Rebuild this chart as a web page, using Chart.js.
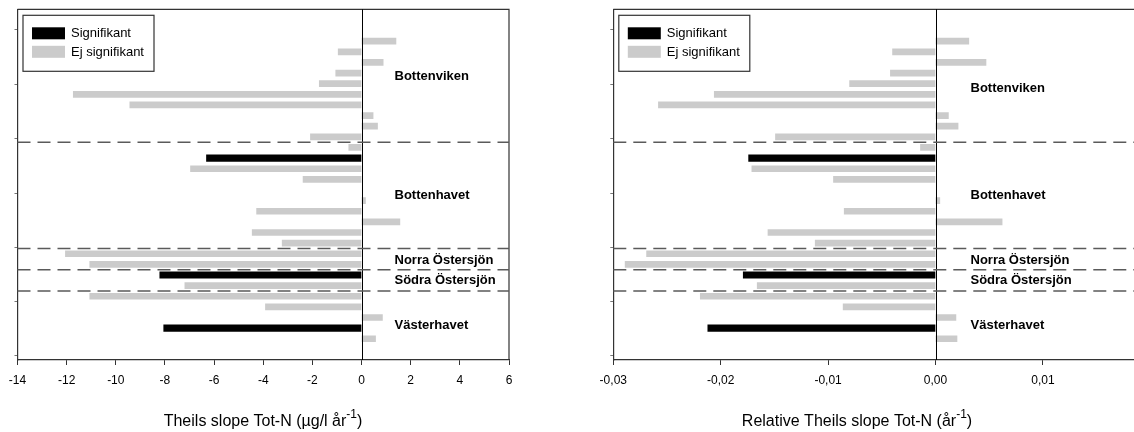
<!DOCTYPE html>
<html>
<head>
<meta charset="utf-8">
<script src="https://cdn.jsdelivr.net/npm/chart.js@4.4.0/dist/chart.umd.min.js"></script>
<style>
html, body { margin: 0; padding: 0; background: #fff; overflow: hidden; width: 1134px; height: 432px; }
#wrapAbs { position: absolute; left: 0; top: 0; }
#wrapRel { position: absolute; left: 570px; top: 0; }
</style>
</head>
<body>
<div id="wrapAbs"><canvas id="absChart" width="560" height="432"></canvas></div>
<div id="wrapRel"><canvas id="relChart" width="600" height="432"></canvas></div>
<script>
// Theil slopes per station, north to south (slot 14 is a spacer row)
const absSlope = [1.4, -0.95, 0.88, -1.05, -1.72, -11.73, -9.43, 0.47, 0.65, -2.08,
    -0.52, -6.31, -6.96, -2.38, null, 0.16, -4.27, 1.56, -4.45, -3.23,
    -12.05, -11.06, -8.21, -7.19, -11.06, -3.91, 0.85, -8.05, 0.57];
const relSlope = [0.0031, -0.0040, 0.0047, -0.0042, -0.0080, -0.0206, -0.0258, 0.0012, 0.0021, -0.0149,
    -0.0014, -0.0174, -0.0171, -0.0095, null, 0.0004, -0.0085, 0.0062, -0.0156, -0.0112,
    -0.0269, -0.0289, -0.0179, -0.0166, -0.0219, -0.0086, 0.0019, -0.0212, 0.0020];
const sigRows = [11, 22, 27];

// region borders (between rows) and region names
const regionBreaks = [9.5, 19.5, 21.5, 23.5];
const regionNames = ['Bottenviken', 'Bottenhavet', 'Norra Östersjön', 'Södra Östersjön', 'Västerhavet'];
const regionRowsAbs = [3.3, 14.5, 20.6, 22.5, 26.7];
const regionRowsRel = [4.4, 14.5, 20.6, 22.5, 26.7];

const yTickRows = [-1.1, 4.05, 9.2, 14.3, 19.4, 24.5, 29.6];

const FONT = 'Liberation Sans, Arial, sans-serif';
const GREY = '#cbcbcb';
const LINE = '#333';

const overlay = {
    id: 'overlay',
    afterDatasetsDraw(chart) {
        const o = chart.options.plugins.overlay;
        const ctx = chart.ctx;
        const a = chart.chartArea;
        const xs = chart.scales.x, ys = chart.scales.y;
        ctx.save();

        // top / right frame
        ctx.strokeStyle = LINE;
        ctx.lineWidth = 1.2;
        ctx.beginPath();
        ctx.moveTo(a.left, a.top); ctx.lineTo(a.right, a.top); ctx.lineTo(a.right, a.bottom);
        ctx.stroke();

        // zero line
        const x0 = Math.round(xs.getPixelForValue(0)) + 0.5;
        ctx.strokeStyle = '#000';
        ctx.lineWidth = 1;
        ctx.beginPath();
        ctx.moveTo(x0, a.top); ctx.lineTo(x0, a.bottom);
        ctx.stroke();

        // region borders
        ctx.strokeStyle = '#5a5a5a';
        ctx.lineWidth = 1.5;
        ctx.setLineDash([13, 7]);
        regionBreaks.forEach(r => {
            const y = ys.getPixelForValue(r);
            ctx.beginPath();
            ctx.moveTo(a.left, y); ctx.lineTo(a.right, y);
            ctx.stroke();
        });
        ctx.setLineDash([]);

        // region names
        ctx.fillStyle = '#000';
        ctx.font = 'bold 13px ' + FONT;
        ctx.textAlign = 'left';
        ctx.textBaseline = 'middle';
        regionNames.forEach((n, i) => {
            ctx.fillText(n, x0 + o.labelOffset, ys.getPixelForValue(o.regionRows[i]));
        });

        // legend
        const bx = a.left + 5.5, by = a.top + 6;
        ctx.strokeStyle = LINE;
        ctx.lineWidth = 1.2;
        ctx.strokeRect(bx, by, 131, 56);
        ctx.font = '13px ' + FONT;
        chart.data.datasets.forEach((ds, i) => {
            const sy = by + 12 + i * 18.5;
            ctx.fillStyle = ds.backgroundColor;
            ctx.fillRect(bx + 9, sy, 33, 12);
            ctx.fillStyle = '#000';
            ctx.fillText(ds.label, bx + 48, sy + 6.5);
        });

        // axis title with superscript
        const t = o.title;
        ctx.textBaseline = 'alphabetic';
        ctx.font = '16px ' + FONT;
        const w1 = ctx.measureText(t[0]).width, w3 = ctx.measureText(t[2]).width;
        ctx.font = '12px ' + FONT;
        const w2 = ctx.measureText(t[1]).width;
        let tx = o.titleCenter - (w1 + w2 + w3) / 2;
        const ty = 426;
        ctx.font = '16px ' + FONT;
        ctx.fillText(t[0], tx, ty); tx += w1;
        ctx.font = '12px ' + FONT;
        ctx.fillText(t[1], tx, ty - 8); tx += w2;
        ctx.font = '16px ' + FONT;
        ctx.fillText(t[2], tx, ty);
        ctx.restore();
    }
};

function makeChart(id, values, cfg) {
    const sigData = [], nsData = [];
    values.forEach((v, i) => {
        if (v === null) return;
        (sigRows.includes(i) ? sigData : nsData).push({ x: v, y: i });
    });
    return new Chart(document.getElementById(id), {
        type: 'bar',
        data: {
            datasets: [
                { label: 'Signifikant', data: sigData, backgroundColor: '#000', barThickness: 6.5, grouped: false },
                { label: 'Ej signifikant', data: nsData, backgroundColor: GREY, barThickness: 6, grouped: false }
            ]
        },
        options: {
            indexAxis: 'y',
            responsive: false,
            animation: false,
            layout: { padding: cfg.padding },
            plugins: {
                legend: { display: false },
                tooltip: { enabled: false },
                overlay: cfg.overlay
            },
            scales: {
                x: {
                    type: 'linear',
                    min: cfg.min, max: cfg.max,
                    ticks: { stepSize: cfg.step, padding: 8, color: '#000', font: { family: FONT, size: 12 }, callback: cfg.fmt },
                    grid: { drawOnChartArea: false, tickLength: 5, color: LINE },
                    border: { color: LINE, width: 1.2 }
                },
                y: {
                    type: 'linear',
                    reverse: true,
                    offset: false,
                    min: -3, max: 30,
                    afterBuildTicks: s => { s.ticks = yTickRows.map(v => ({ value: v })); },
                    ticks: { display: false },
                    grid: { drawOnChartArea: false, offset: false, tickLength: 3, color: '#777' },
                    border: { color: LINE, width: 1.2 }
                }
            }
        },
        plugins: [overlay]
    });
}

makeChart('absChart', absSlope, {
    min: -14, max: 6, step: 2,
    fmt: v => String(v),
    padding: { left: 14.5, top: 9.3, right: 51, bottom: 36.6 },
    overlay: {
        labelOffset: 32,
        regionRows: regionRowsAbs,
        titleCenter: 263,
        title: ['Theils slope Tot-N (\u00b5g/l år', '-1', ')']
    }
});

makeChart('relChart', relSlope, {
    min: -0.03, max: 0.02, step: 0.01,
    fmt: v => v.toFixed(2).replace('.', ','),
    padding: { left: 40.3, top: 9.3, right: 15, bottom: 36.6 },
    overlay: {
        labelOffset: 34,
        regionRows: regionRowsRel,
        titleCenter: 287,
        title: ['Relative Theils slope Tot-N (år', '-1', ')']
    }
});
</script>
</body>
</html>
